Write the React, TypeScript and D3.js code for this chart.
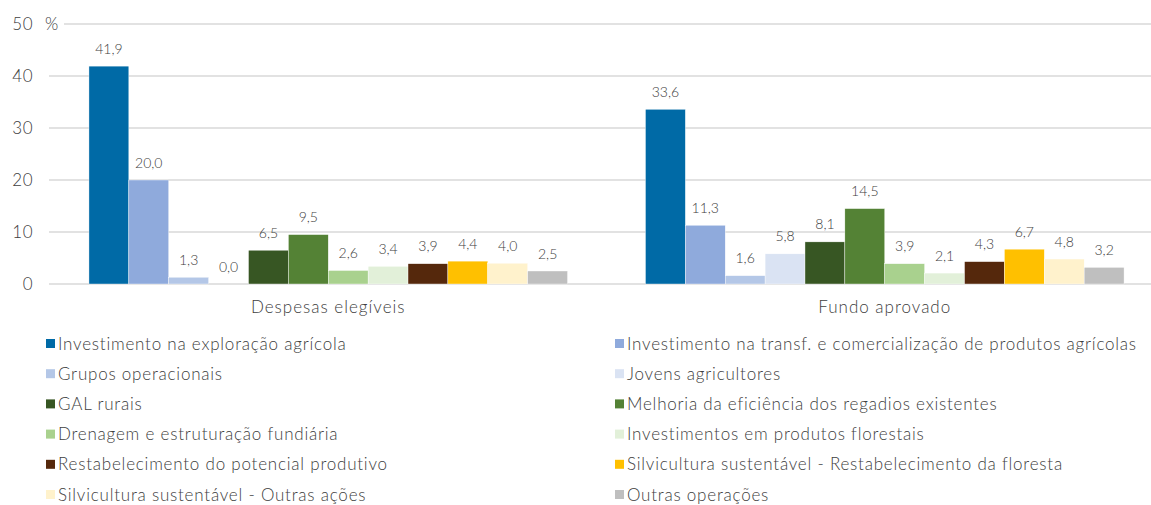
import * as d3 from 'd3';

const categories = ['Despesas elegíveis', 'Fundo aprovado'];

const seriesNames = [
  'Investimento na exploração agrícola',
  'Investimento na transf. e comercialização de produtos agrícolas',
  'Grupos operacionais',
  'Jovens agricultores',
  'GAL rurais',
  'Melhoria da eficiência dos regadios existentes',
  'Drenagem e estruturação fundiária',
  'Investimentos em produtos florestais',
  'Restabelecimento do potencial produtivo',
  'Silvicultura sustentável - Restabelecimento da floresta',
  'Silvicultura sustentável - Outras ações',
  'Outras operações',
];

const seriesColors = [
  '#006AA6', '#8FAADC', '#B4C7E7', '#DAE3F3', '#375623', '#548235',
  '#A9D18E', '#E2F0D9', '#55280C', '#FFC000', '#FFF2CC', '#BFBFBF',
];

const despesasValues = [41.9, 20.0, 1.3, 0.0, 6.5, 9.5, 2.6, 3.4, 3.9, 4.4, 4.0, 2.5];
const fundoValues = [33.6, 11.3, 1.6, 5.8, 8.1, 14.5, 3.9, 2.1, 4.3, 6.7, 4.8, 3.2];

const yTicks = [0, 10, 20, 30, 40, 50];

const W = 1151;
const H = 505;
const FONT = 'Lato, "Open Sans", sans-serif';
const TEXT = '#404040';

export default function App() {
  const x0 = d3.scaleBand<string>()
    .domain(categories)
    .range([50, 1163])
    .paddingInner(0.14)
    .paddingOuter(0.07);

  const x1 = d3.scaleBand<string>()
    .domain(seriesNames)
    .range([0, x0.bandwidth()]);

  const y = d3.scaleLinear().domain([0, 50]).range([284, 24]);

  const fmt = (v: number) => d3.format('.1f')(v).replace('.', ',');

  const groups = [
    { name: categories[0], values: despesasValues },
    { name: categories[1], values: fundoValues },
  ];

  const legendCols = [46, 615];

  return (
    <div style={{ position: 'absolute', left: 0, top: 0 }}>
      <svg width={W} height={H} style={{ display: 'block', background: '#fff' }} fontFamily={FONT}>
        {/* gridlines */}
        {yTicks.map(t => (
          <line
            key={t}
            x1={t === 50 ? 64 : 49}
            x2={W}
            y1={y(t)}
            y2={y(t)}
            stroke="#D9D9D9"
            strokeWidth={1.3}
          />
        ))}
        {yTicks.map(t => (
          <text key={'l' + t} x={33} y={y(t)} dy="0.36em" textAnchor="end" fontSize={17} fill={TEXT} fontWeight={300} letterSpacing={0.5}>
            {t}
          </text>
        ))}
        <text x={45} y={y(50)} dy="0.36em" fontSize={17} fill={TEXT} fontWeight={300}>%</text>

        {/* bars */}
        {groups.map(g => (
          <g key={g.name} transform={`translate(${x0(g.name)},0)`}>
            {g.values.map((v, i) => (
              <rect
                key={i}
                x={x1(seriesNames[i])}
                y={y(v)}
                width={x1.bandwidth()}
                height={y(0) - y(v)}
                fill={seriesColors[i]}
                stroke="#fff"
                strokeWidth={0.4}
              />
            ))}
            {g.values.map((v, i) => (
              <text
                key={'v' + i}
                x={(x1(seriesNames[i]) ?? 0) + x1.bandwidth() / 2}
                y={y(v) - 12.5}
                textAnchor="middle"
                fontSize={14}
                fill={TEXT}
                fontWeight={300}
              >
                {fmt(v)}
              </text>
            ))}
            <text
              x={x0.bandwidth() / 2}
              y={313}
              textAnchor="middle"
              fontSize={17}
              fill={TEXT}
              fontWeight={300}
              letterSpacing={1}
            >
              {g.name}
            </text>
          </g>
        ))}

        {/* legend */}
        {seriesNames.map((name, i) => {
          const cx = legendCols[i % 2];
          const cy = 343.5 + Math.floor(i / 2) * 30.2;
          return (
            <g key={name} transform={`translate(${cx},${cy})`}>
              <rect x={0} y={-4.5} width={9} height={9} fill={seriesColors[i]} />
              <text x={12} y={0} dy="0.36em" fontSize={17} fill={TEXT} fontWeight={300} letterSpacing={0.78}>
                {name}
              </text>
            </g>
          );
        })}
      </svg>
    </div>
  );
}
